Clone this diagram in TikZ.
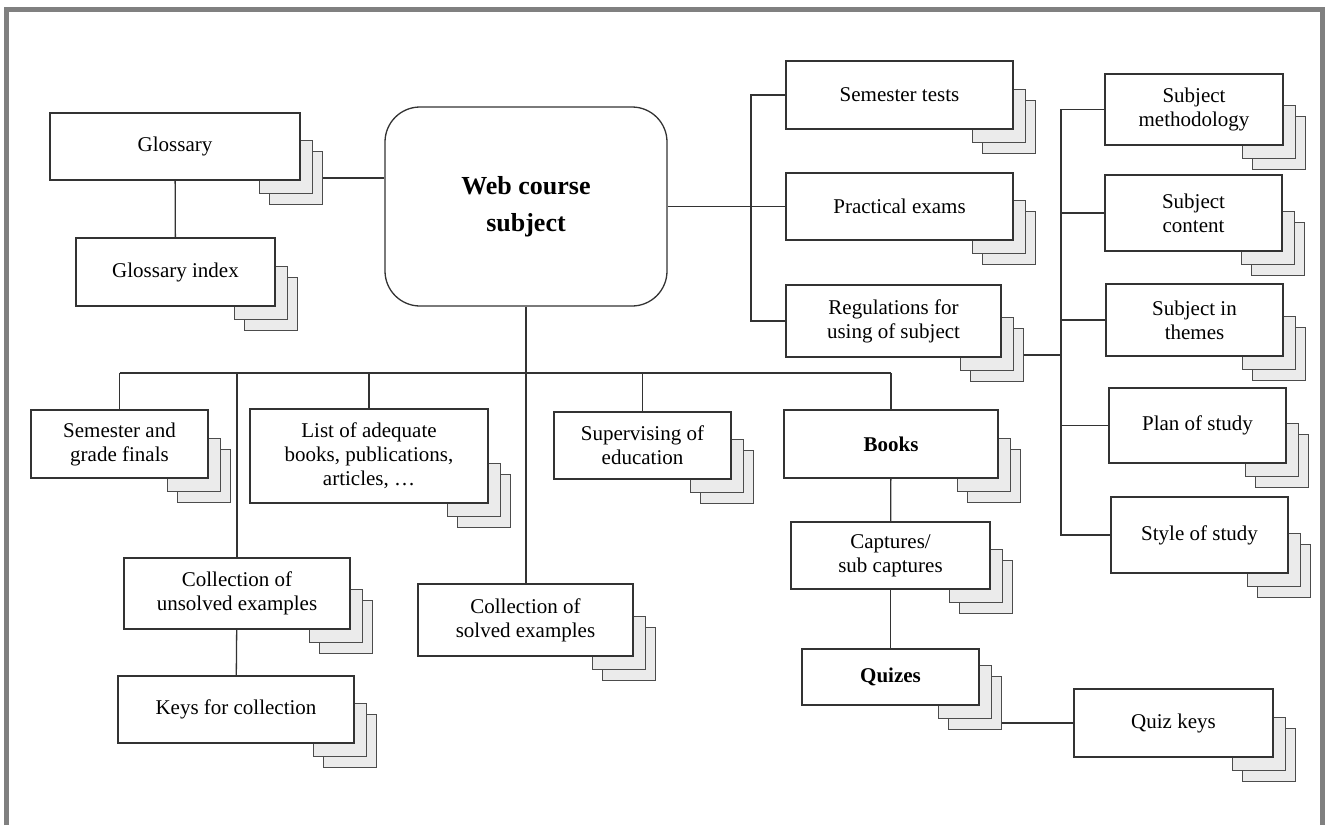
\documentclass[tikz,border=0pt]{standalone}
\usepackage{fontspec}
\setmainfont{Liberation Serif}
\usetikzlibrary{backgrounds}
\newcommand{\boxFont}[0]{\fontsize{21}{24}\selectfont}
\newcommand{\pageSize}[0]{53}

\begin{document}
\begin{tikzpicture}[x=1pt, y=-1pt, line width=1.3pt]
  \tikzset{box/.style={draw=black!80, fill=white, align=center, font=\boxFont, inner sep=2pt},
    page/.style={draw=black!70, fill=black!8, minimum width=\pageSize, minimum height=\pageSize,
      inner sep=0pt, anchor=south east},
    link/.style={draw=black!80}}
  \useasboundingbox (0,0) rectangle (1327,825);
  \draw[black!50, line width=5] (6.5,825) -- (6.5,9.5) -- (1322.5,9.5) -- (1322.5,825);
  % centre and glossary
  \node[box, rounded corners=35, minimum width=282, minimum height=199,
        font=\bfseries\fontsize{26}{37}\selectfont] (web) at (526,206.5) {Web course\\subject};
  \node[box, minimum width=250, minimum height=67] (glos) at (175,146.5) {Glossary};
  \node[box, minimum width=199, minimum height=68] (glosIdx) at (175.5,272) {Glossary index};
  % tests and exams
  \node[box, minimum width=227, minimum height=68] (semTests) at (899.5,95) {Semester tests};
  \node[box, minimum width=227, minimum height=67] (pracEx) at (899.5,206.5) {Practical exams};
  \node[box, minimum width=215, minimum height=72] (regul) at (893.5,321) {Regulations for\\using of subject};
  % subject column
  \node[box, minimum width=178, minimum height=71] (subMeth) at (1194,109.5) {Subject\\methodology};
  \node[box, minimum width=177, minimum height=76] (subCont) at (1193.5,213) {Subject\\content};
  \node[box, minimum width=177, minimum height=72] (subThem) at (1194.5,320) {Subject in\\themes};
  \node[box, minimum width=177, minimum height=75] (planSt) at (1197.5,425.5) {Plan of study};
  \node[box, minimum width=177, minimum height=76] (styleSt) at (1199.5,535) {Style of study};
  % lower row
  \node[box, minimum width=177, minimum height=68] (semFin) at (119.5,444) {Semester and\\grade finals};
  \node[box, minimum width=238, minimum height=94] (litList) at (369,456) {List of adequate\\books, publications,\\articles, …};
  \node[box, minimum width=177, minimum height=67] (superv) at (642.5,445.5) {Supervising of\\education};
  \node[box, minimum width=214, minimum height=68, font=\bfseries\boxFont] (books) at (891,444) {Books};
  \node[box, minimum width=226, minimum height=71] (unsolv) at (237,593.5) {Collection of\\unsolved examples};
  \node[box, minimum width=236, minimum height=67] (keys) at (236,709.5) {Keys for collection};
  \node[box, minimum width=215, minimum height=72] (solved) at (525.5,620) {Collection of\\solved examples};
  \node[box, minimum width=199, minimum height=67] (capt) at (890.5,555.5) {Captures/\\sub captures};
  \node[box, minimum width=177, minimum height=56, font=\bfseries\boxFont] (quiz) at (890.5,677) {Quizes};
  \node[box, minimum width=199, minimum height=68] (quizKeys) at (1173.5,723) {Quiz keys};
  % page stacks
  \begin{scope}[on background layer]
    \foreach \n in {glos,glosIdx,semTests,pracEx,regul,subMeth,subCont,subThem,planSt,styleSt,
                    semFin,litList,superv,books,unsolv,keys,solved,capt,quiz,quizKeys} {
      \node[page, shift={(22,24)}] (\n-p2) at (\n.south east) {};
      \node[page, shift={(12,13)}] (\n-p1) at (\n.south east) {};
    }
  \end{scope}
  \coordinate (leftBus) at (751,0);
  \coordinate (rightBus) at (1061,0);
  \coordinate (lowBus) at (0,373);
  \draw[link] (glos) -- (glosIdx);
  \draw[link] (glos-p2.east) -- (glos-p2.east -| web.west);
  \draw[link] (web.east) -- (pracEx.west);
  \draw[link] (semTests.west) -- (semTests.west -| leftBus) -- (regul.west -| leftBus) -- (regul.west);
  \draw[link] (subMeth.west) -- (subMeth.west -| rightBus) -- (styleSt.west -| rightBus) -- (styleSt.west);
  \foreach \n in {subCont,subThem,planSt}
    \draw[link] (\n.west) -- (\n.west -| rightBus);
  \draw[link] (regul-p2.east) -- (regul-p2.east -| rightBus);
  \draw[link] (web.south) -- (web.south |- solved.north);
  \draw[link] (semFin.north |- lowBus) -- (books.north |- lowBus);
  \foreach \n in {semFin,unsolv,litList,superv,books}
    \draw[link] (\n.north) -- (\n.north |- lowBus);
  \draw[link] (unsolv) -- (keys);
  \draw[link] (books) -- (capt);
  \draw[link] (capt) -- (quiz);
  \draw[link] (quizKeys.west) -- (quizKeys.west -| quiz-p2.east);
\end{tikzpicture}
\end{document}
